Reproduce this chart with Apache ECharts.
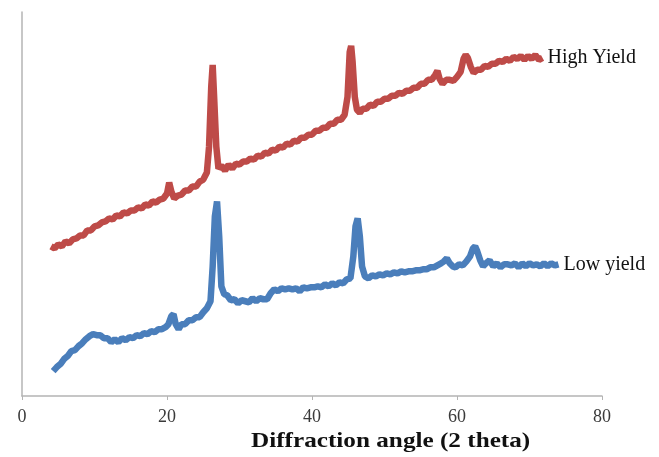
<!DOCTYPE html>
<html><head><meta charset="utf-8">
<script src="https://cdn.jsdelivr.net/npm/echarts@6/dist/echarts.min.js"></script>
<style>html,body{margin:0;padding:0;background:#fff}#c{width:659px;height:457px}</style>
</head><body><div id="c"></div>
<script>
// Diffraction angle (2 theta) ticks
var xTicks = [0, 20, 40, 60, 80];
var xTitle = 'Diffraction angle (2 theta)';
var seriesNames = ['High Yield', 'Low yield'];
// High Yield: [2theta, intensity (arb.)]
var highYield = [
[4.0,150],[4.5,148],[5.0,152],[5.5,150],[6.0,155],[6.5,153],[7.0,157],[7.5,158],[8.0,161],[8.5,161],
[9.0,166],[9.5,166],[10.0,170],[10.5,171],[11.0,174],[11.5,175],[12.0,178],[12.5,177],[13.0,181],[13.5,180],
[14.0,184],[14.5,183],[15.0,186],[15.5,186],[16.0,189],[16.5,188],[17.0,192],[17.5,191],[18.0,195],[18.5,194],
[19.0,197],[19.5,198],[20.0,203],[20.3,214],[20.6,205],[21.0,198],[21.5,201],[22.0,202],[22.5,206],[23.0,206],
[23.5,210],[24.0,210],[24.5,215],[25.0,217],[25.5,224],[25.8,250],[26.1,310],[26.3,332],[26.5,300],[26.8,250],
[27.1,228],[27.5,231],[28.0,226],[28.5,232],[29.0,228],[29.5,233],[30.0,232],[30.5,235],[31.0,235],[31.5,238],
[32.0,237],[32.5,241],[33.0,240],[33.5,244],[34.0,243],[34.5,247],[35.0,246],[35.5,250],[36.0,249],[36.5,253],
[37.0,252],[37.5,256],[38.0,255],[38.5,259],[39.0,259],[39.5,262],[40.0,262],[40.5,266],[41.0,266],[41.5,269],
[42.0,269],[42.5,273],[43.0,273],[43.5,277],[44.0,277],[44.5,282],[44.9,300],[45.2,345],[45.4,351],[45.6,335],
[45.9,300],[46.2,287],[46.6,284],[47.0,288],[47.5,288],[48.0,292],[48.5,291],[49.0,295],[49.5,295],[50.0,298],
[50.5,298],[51.0,301],[51.5,301],[52.0,304],[52.5,303],[53.0,306],[53.5,306],[54.0,309],[54.5,309],[55.0,313],
[55.5,313],[56.0,317],[56.5,317],[57.0,322],[57.3,326],[57.6,318],[58.0,313],[58.5,317],[59.0,317],[59.5,316],
[60.0,320],[60.5,325],[60.9,338],[61.2,342],[61.5,339],[61.9,330],[62.3,324],[62.8,327],[63.3,327],[63.8,331],
[64.3,330],[64.8,333],[65.3,333],[65.8,336],[66.3,335],[66.8,338],[67.3,336],[67.8,340],[68.3,338],[68.8,341],
[69.3,337],[69.8,341],[70.3,338],[70.8,342],[71.3,337],[71.8,339]
];
// Low yield: [2theta, intensity (arb.)]
var lowYield = [
[4.3,25],[4.8,29],[5.3,32],[5.8,37],[6.3,40],[6.8,45],[7.3,46],[7.8,50],[8.3,53],[8.8,57],
[9.3,60],[9.8,62],[10.3,61],[10.8,61],[11.3,58],[11.8,58],[12.3,54],[12.8,57],[13.3,54],[13.8,58],
[14.3,56],[14.8,59],[15.3,58],[15.8,61],[16.3,60],[16.8,63],[17.3,62],[17.8,65],[18.3,64],[18.8,67],
[19.3,67],[19.8,69],[20.2,72],[20.6,80],[20.9,82],[21.2,72],[21.6,67],[22.0,72],[22.5,72],[23.0,76],
[23.5,76],[24.0,79],[24.5,79],[25.0,84],[25.5,88],[26.0,95],[26.3,130],[26.6,180],[26.9,195],[27.2,160],
[27.5,110],[27.9,102],[28.3,101],[28.8,96],[29.3,97],[29.8,93],[30.3,96],[30.8,95],[31.3,94],[31.8,98],
[32.3,95],[32.8,98],[33.3,97],[33.8,97],[34.3,103],[34.8,107],[35.3,105],[35.8,108],[36.3,107],[36.8,108],
[37.3,107],[37.8,108],[38.3,105],[38.8,109],[39.3,108],[39.8,109],[40.3,109],[40.8,110],[41.3,109],[41.8,112],
[42.3,110],[42.8,113],[43.3,111],[43.8,114],[44.3,113],[44.8,117],[45.3,118],[45.7,140],[46.0,170],[46.3,178],
[46.6,160],[46.9,130],[47.3,120],[47.8,118],[48.3,121],[48.8,120],[49.3,122],[49.8,121],[50.3,123],[50.8,122],
[51.3,124],[51.8,123],[52.3,125],[52.8,124],[53.3,125],[53.8,125],[54.3,126],[54.8,126],[55.3,127],[55.8,127],
[56.3,129],[56.8,129],[57.3,131],[57.8,133],[58.2,135],[58.6,138],[59.0,133],[59.4,130],[59.8,129],[60.3,132],
[60.8,131],[61.3,135],[61.8,140],[62.2,148],[62.5,150],[62.8,145],[63.2,136],[63.6,130],[64.0,133],[64.5,136],
[65.0,130],[65.5,133],[66.0,129],[66.5,132],[67.0,132],[67.5,131],[68.0,133],[68.5,129],[69.0,133],[69.5,130],
[70.0,133],[70.5,131],[71.0,132],[71.5,130],[72.0,133],[72.5,130],[73.0,133],[73.5,131],[74.0,132]
];

var chart = echarts.init(document.getElementById('c'), null, {renderer: 'canvas'});
var serif = '"Liberation Serif", "Times New Roman", serif';
chart.setOption({
  animation: false,
  backgroundColor: '#fff',
  grid: {left: 22, right: 57, top: 12, bottom: 61, containLabel: false},
  xAxis: {
    type: 'value', min: xTicks[0], max: xTicks[xTicks.length - 1], interval: 20,
    axisLine: {show: true, lineStyle: {color: '#b4b4b4', width: 1.5}},
    axisTick: {show: true, inside: false, length: 4, lineStyle: {color: '#b4b4b4'}},
    axisLabel: {color: '#3a3a3a', fontFamily: serif, fontSize: 18, margin: 12},
    splitLine: {show: false}
  },
  yAxis: {
    type: 'value', min: 0, max: 385,
    axisLine: {show: true, lineStyle: {color: '#b4b4b4', width: 1.5}},
    axisTick: {show: false}, axisLabel: {show: false}, splitLine: {show: false}
  },
  graphic: [{
    type: 'text', left: 251, top: 431,
    style: {text: xTitle, font: 'bold 21px ' + serif, fill: '#111'},
    scaleX: 1.2
  }],
  series: [
    {name: seriesNames[0], type: 'line', data: highYield, showSymbol: false,
     lineStyle: {color: '#BE4B48', width: 6.5}, itemStyle: {color: '#BE4B48'},
     endLabel: {show: true, formatter: '{a}', distance: 5, color: '#111', fontFamily: serif, fontSize: 20}},
    {name: seriesNames[1], type: 'line', data: lowYield, showSymbol: false,
     lineStyle: {color: '#4A7EBB', width: 6.5}, itemStyle: {color: '#4A7EBB'},
     endLabel: {show: true, formatter: '{a}', distance: 5, color: '#111', fontFamily: serif, fontSize: 20}}
  ]
});
</script></body></html>
